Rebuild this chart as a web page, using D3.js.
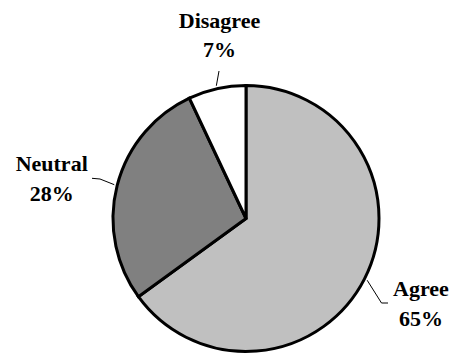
<!DOCTYPE html>
<html>
<head>
<meta charset="utf-8">
<script src="https://cdn.jsdelivr.net/npm/d3@7"></script>
<style>
  html, body { margin: 0; padding: 0; background: #fff; }
  svg { display: block; }
</style>
</head>
<body>
<svg id="chart" width="451" height="354"></svg>
<script>
// Survey responses (percent)
const categories = ["Agree", "Neutral", "Disagree"];
const values = [65, 28, 7];
const fills = ["#c0c0c0", "#808080", "#ffffff"];

const width = 451, height = 354;
const cx = 246, cy = 218.5, R = 133;

const svg = d3.select("#chart");
const g = svg.append("g").attr("transform", `translate(${cx},${cy})`);

const pie = d3.pie().sort(null).value(d => d.value);
const arcs = pie(categories.map((c, i) => ({ name: c, value: values[i], fill: fills[i] })));
const arc = d3.arc().innerRadius(0).outerRadius(R);

g.selectAll("path.slice")
  .data(arcs)
  .join("path")
  .attr("class", "slice")
  .attr("d", arc)
  .attr("fill", d => d.data.fill)
  .attr("stroke", "#000")
  .attr("stroke-width", 3)
  .attr("stroke-linejoin", "miter");

// Label placement: leader elbow/end and text anchor, relative to the pie centre
const labelLayout = {
  Agree:    { elbow: [135.5, 84.5], end: [142, 84.5], text: [175, 77.5] },
  Neutral:  { elbow: [-146, -39.5], end: [-154, -40.2], text: [-194.3, -47.5] },
  Disagree: { elbow: [-27, -147.5], end: null,        text: [-26.5, -191] }
};

const mid = d => (d.startAngle + d.endAngle) / 2;
const onRim = (a, r) => [Math.sin(a) * r, -Math.cos(a) * r];

g.selectAll("path.leader")
  .data(arcs)
  .join("path")
  .attr("class", "leader")
  .attr("fill", "none")
  .attr("stroke", "#000")
  .attr("stroke-width", 1)
  .attr("d", d => {
    const L = labelLayout[d.data.name];
    const pts = [onRim(mid(d), R + 3), L.elbow];
    if (L.end) pts.push(L.end);
    return d3.line()(pts);
  });

// Two text lines per slice: category name, then its percentage
const lines = [
  { dy: 0,    text: d => d.data.name },
  { dy: 29.5, text: d => d.data.value + "%" }
];

lines.forEach((ln, i) => {
  g.selectAll(`text.label${i}`)
    .data(arcs)
    .join("text")
    .attr("class", `label${i}`)
    .attr("x", d => labelLayout[d.data.name].text[0])
    .attr("y", d => labelLayout[d.data.name].text[1] + ln.dy)
    .attr("text-anchor", "middle")
    .style("font-family", "Liberation Serif")
    .style("font-weight", "bold")
    .style("font-size", "22px")
    .style("fill", "#000")
    .text(ln.text);
});
</script>
</body>
</html>
